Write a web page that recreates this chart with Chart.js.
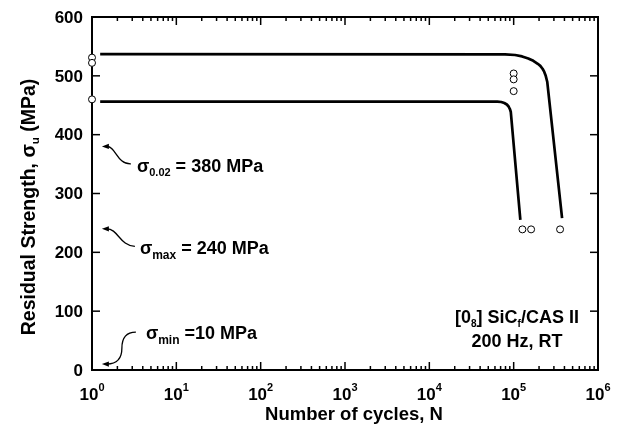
<!DOCTYPE html>
<html>
<head>
<meta charset="utf-8">
<script src="https://cdn.jsdelivr.net/npm/chart.js@4"></script>
<style>
html,body{margin:0;padding:0;background:#fff;}
canvas{display:block;}
</style>
</head>
<body>
<canvas id="c" width="623" height="435"></canvas>
<script>
// ---- data ----
const xMajorTicks = [1, 10, 100, 1000, 10000, 100000, 1000000];
const xTickExponents = ['0', '1', '2', '3', '4', '5', '6'];
const yTicks = [0, 100, 200, 300, 400, 500, 600];

const upperCurveN = [1.25, 79000, 104000, 126000, 149000, 171000, 193000, 207000, 220000, 230000, 240000, 250000, 375000];
const upperCurveS = [537, 536.6, 535.4, 533, 529.5, 525.5, 520.5, 517, 512, 507, 500, 490, 258];

const lowerCurveN = [1.25, 64000, 71300, 77400, 83000, 87100, 90200, 92500, 120000];
const lowerCurveS = [456, 456, 455.5, 453.8, 451.3, 447.9, 443.6, 438.5, 255];

const testN = [1, 1, 1, 100000, 100000, 100000, 127000, 161000, 355000];
const testS = [531, 522, 460, 504, 494, 474, 239, 239, 239];

const FONT = '"Liberation Sans", Arial, Helvetica, sans-serif';

function zip(xs, ys) { return xs.map((v, i) => ({ x: v, y: ys[i] })); }

function partsWidth(ctx, parts) {
  let w = 0;
  parts.forEach(p => { ctx.font = `bold ${p.s}px ${FONT}`; w += ctx.measureText(p.t).width; });
  return w;
}
function drawRich(ctx, x, y, parts, align) {
  const w = partsWidth(ctx, parts);
  let cx = align === 'center' ? x - w / 2 : (align === 'right' ? x - w : x);
  ctx.textAlign = 'left';
  ctx.textBaseline = 'alphabetic';
  parts.forEach(p => {
    ctx.font = `bold ${p.s}px ${FONT}`;
    ctx.fillText(p.t, cx, y + (p.dy || 0));
    cx += ctx.measureText(p.t).width;
  });
}
function seg(ctx, x1, y1, x2, y2) { ctx.beginPath(); ctx.moveTo(x1, y1); ctx.lineTo(x2, y2); ctx.stroke(); }
function arrowHead(ctx, tx, ty) {
  ctx.beginPath();
  ctx.moveTo(tx, ty);
  ctx.lineTo(tx + 7, ty - 2.6);
  ctx.lineTo(tx + 7, ty + 2.6);
  ctx.closePath();
  ctx.fill();
}

const decor = {
  id: 'decor',
  beforeDatasetsDraw(chart) {
    const { ctx, chartArea: a, scales: { x, y } } = chart;
    ctx.save();
    ctx.strokeStyle = '#000';
    ctx.lineWidth = 2;
    ctx.strokeRect(a.left, a.top, a.right - a.left, a.bottom - a.top);
    ctx.lineWidth = 1.5;
    yTicks.forEach(v => {
      const py = y.getPixelForValue(v);
      seg(ctx, a.left, py, a.left + 8, py);
      seg(ctx, a.right, py, a.right - 8, py);
    });
    for (let d = 0; d < 6; d++) {
      for (let m = 1; m <= 9; m++) {
        const px = x.getPixelForValue(m * Math.pow(10, d));
        const len = m === 1 ? 8 : 4;
        seg(ctx, px, a.bottom, px, a.bottom - len);
        seg(ctx, px, a.top, px, a.top + len);
      }
    }
    ctx.restore();
  },
  afterDraw(chart) {
    const { ctx, chartArea: a, scales: { x, y } } = chart;
    ctx.save();
    ctx.fillStyle = '#000';
    ctx.strokeStyle = '#000';
    // y tick labels
    ctx.font = `bold 17px ${FONT}`;
    ctx.textAlign = 'right';
    ctx.textBaseline = 'middle';
    yTicks.forEach(v => ctx.fillText(String(v), a.left - 9, y.getPixelForValue(v) + 1));
    // x tick labels
    xMajorTicks.forEach((v, i) => {
      drawRich(ctx, x.getPixelForValue(v), a.bottom + 30, [
        { t: '10', s: 17 }, { t: xTickExponents[i], s: 11, dy: -9 }
      ], 'center');
    });
    // axis titles
    drawRich(ctx, 354, 420, [{ t: 'Number of cycles, N', s: 18.5 }], 'center');
    ctx.save();
    ctx.translate(35, 207);
    ctx.rotate(-Math.PI / 2);
    drawRich(ctx, 0, 0, [
      { t: 'Residual Strength, σ', s: 19.5 }, { t: 'u', s: 11.5, dy: 4 }, { t: ' (MPa)', s: 19.5 }
    ], 'center');
    ctx.restore();

    // annotations with curly arrows
    ctx.lineWidth = 1.3;
    const tipX = x.getPixelForValue(1.31);
    // 0.02 proof stress
    let ty = y.getPixelForValue(380);
    arrowHead(ctx, tipX, ty);
    ctx.beginPath(); ctx.moveTo(tipX + 5, ty);
    ctx.bezierCurveTo(tipX + 14, ty, tipX + 15, ty + 18, tipX + 29, ty + 17.5); ctx.stroke();
    drawRich(ctx, tipX + 35, ty + 25.5, [
      { t: 'σ', s: 18 }, { t: '0.02', s: 11, dy: 4 }, { t: ' = 380 MPa', s: 18 }
    ], 'left');
    // max stress
    ty = y.getPixelForValue(240);
    arrowHead(ctx, tipX, ty);
    ctx.beginPath(); ctx.moveTo(tipX + 5, ty);
    ctx.bezierCurveTo(tipX + 16, ty, tipX + 18, ty + 17, tipX + 33, ty + 17.5); ctx.stroke();
    drawRich(ctx, tipX + 38, ty + 25.5, [
      { t: 'σ', s: 18 }, { t: 'max', s: 12, dy: 5 }, { t: ' = 240 MPa', s: 18 }
    ], 'left');
    // min stress
    ty = y.getPixelForValue(10);
    arrowHead(ctx, tipX, ty);
    ctx.beginPath(); ctx.moveTo(tipX + 5, ty);
    ctx.bezierCurveTo(tipX + 16, ty, tipX + 20, ty - 6, tipX + 20, ty - 16);
    ctx.bezierCurveTo(tipX + 20, ty - 26, tipX + 24, ty - 32, tipX + 34, ty - 32);
    ctx.stroke();
    drawRich(ctx, tipX + 44, ty - 25, [
      { t: 'σ', s: 18 }, { t: 'min', s: 12, dy: 5 }, { t: ' =10 MPa', s: 18 }
    ], 'left');

    // material label
    const cx = a.right - 81;
    drawRich(ctx, cx, a.bottom - 47, [
      { t: '[0', s: 18 }, { t: '8', s: 10, dy: 4 }, { t: '] SiC', s: 18 }, { t: 'f', s: 10, dy: 4 }, { t: '/CAS II', s: 18 }
    ], 'center');
    drawRich(ctx, cx, a.bottom - 23, [{ t: '200 Hz, RT', s: 18 }], 'center');
    ctx.restore();
  }
};

new Chart(document.getElementById('c'), {
  type: 'line',
  data: {
    datasets: [
      { data: zip(upperCurveN, upperCurveS), borderColor: '#000', borderWidth: 2.7, pointRadius: 0, tension: 0, fill: false, clip: false, borderJoinStyle: 'round' },
      { data: zip(lowerCurveN, lowerCurveS), borderColor: '#000', borderWidth: 2.7, pointRadius: 0, tension: 0, fill: false, clip: false, borderJoinStyle: 'round' },
      { data: zip(testN, testS), showLine: false, pointRadius: 3.5, pointBorderWidth: 1, pointBorderColor: '#000', pointBackgroundColor: '#fff', clip: false }
    ]
  },
  options: {
    responsive: false,
    animation: false,
    devicePixelRatio: 1,
    layout: { padding: { left: 92, top: 17, right: 25, bottom: 65 } },
    plugins: { legend: { display: false }, tooltip: { enabled: false } },
    scales: {
      x: { type: 'logarithmic', min: 1, max: 1000000, display: false },
      y: { type: 'linear', min: 0, max: 600, display: false }
    }
  },
  plugins: [decor]
});
</script>
</body>
</html>
